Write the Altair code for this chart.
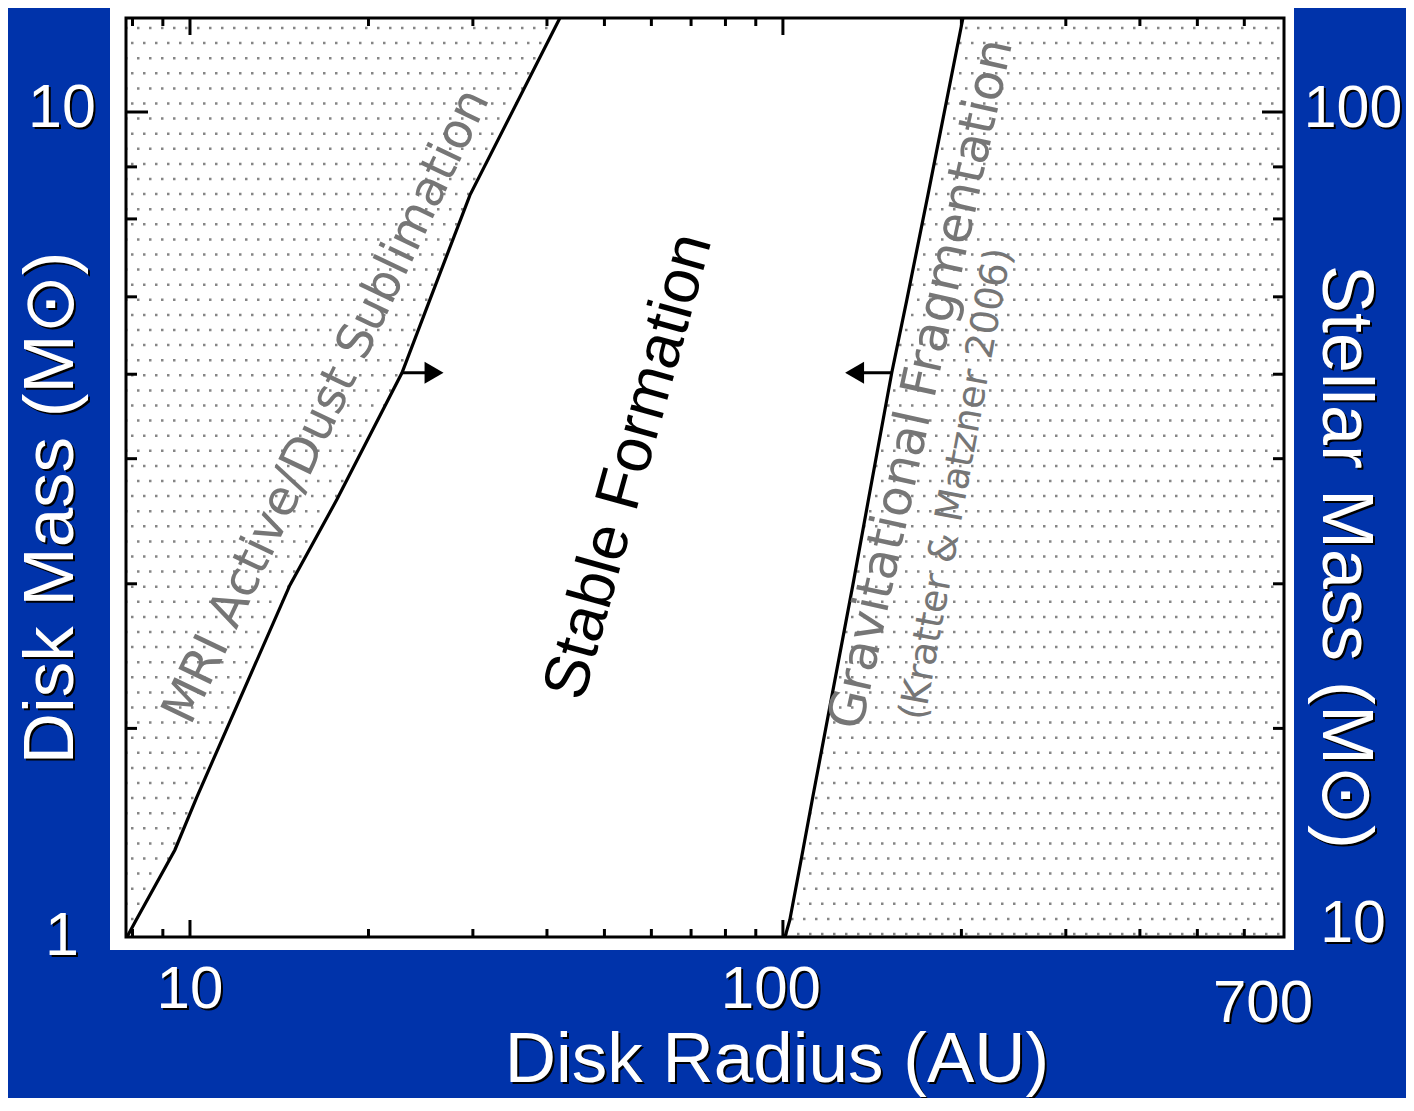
import altair as alt
import pandas as pd

W, H = 1158, 919
TOTAL_W, TOTAL_H = 1398, 1090
PAD_L, PAD_T = 118, 10

BLUE = "#0033aa"

# ---------------- data ----------------
x_domain = [7.8, 700]      # disk radius (AU)
y_domain = [1, 13]         # disk mass (Msun)

# boundary curves, read at common disk-mass levels
band_mass = [1.0, 1.048, 1.275, 1.478, 2.67, 3.39, 4.83, 5.92, 7.93, 13.0]
mri_radius = [7.83, 8.11, 9.43, 10.27, 14.74, 17.69, 22.78, 25.38, 29.66, 42.06]
frag_radius = [100.8, 102.7, 108.1, 112.3, 131.2, 139.4, 152.6, 161.8, 175.6, 201.2]

# frame ticks
x_major = [10, 100]
x_minor = [8, 9, 20, 30, 40, 50, 60, 70, 80, 90, 200, 300, 400, 500, 600]
y_major = [10]
y_minor = [1.79, 2.68, 3.80, 4.81, 5.97, 7.42, 8.58]

# arrows (start on curve -> head)
arrow_mass = 4.83
arrow_mri = [22.78, 25.8]
arrow_frag = [152.6, 132.1]

# annotations
note_text = ["MRI Active/Dust Sublimation", "Gravitational Fragmentation",
             "(Kratter & Matzner 2006)", "Stable Formation"]
note_radius = [17.0, 171.6, 196.6, 55.0]
note_mass = [4.40, 4.68, 3.54, 3.72]

# tick labels
x_labels = ["10", "100", "700"]
x_label_vals = [10, 100, 700]
left_labels = ["10", "1"]
left_label_vals = [10, 1]
right_labels = ["100", "10"]
right_label_vals = [10, 1]

x_title = "Disk Radius (AU)"
left_title = "Disk Mass (M\u2299)"
right_title = "Stellar Mass (M\u2299)"

# ---------------- chart ----------------
xs = alt.Scale(type="log", domain=x_domain, nice=False)
ys = alt.Scale(type="log", domain=y_domain, nice=False)


def X(field):
    return alt.X(field, type="quantitative", scale=xs, axis=None)


def Y(field):
    return alt.Y(field, type="quantitative", scale=ys, axis=None)


one = pd.DataFrame({"k": [0]})
layers = []

# white backdrop around the plot frame
layers.append(alt.Chart(one).mark_rect(fill="white").encode(
    x=alt.value(-16), x2=alt.value(W + 10), y=alt.value(-14), y2=alt.value(H + 13)))

# stipple texture (drawn as dotted rows)
rows = alt.Chart(alt.sequence(0, 61, as_="row")).transform_calculate(
    py="datum.row * 15.1 + 10", odd="datum.row % 2")
layers.append(rows.transform_filter("datum.odd == 0").mark_rule(
    stroke="#858585", strokeWidth=2.5, strokeDash=[2.5, 9.5], strokeDashOffset=1).encode(
    y=alt.Y("py:Q", scale=None, axis=None), x=alt.value(0), x2=alt.value(W)))
layers.append(rows.transform_filter("datum.odd == 1").mark_rule(
    stroke="#858585", strokeWidth=2.5, strokeDash=[2.5, 9.5], strokeDashOffset=7).encode(
    y=alt.Y("py:Q", scale=None, axis=None), x=alt.value(0), x2=alt.value(W)))

band = pd.DataFrame({"mass": band_mass, "mri": mri_radius, "frag": frag_radius})

# stable region (white)
layers.append(alt.Chart(band).mark_area(orient="horizontal", fill="white", opacity=1).encode(
    y=Y("mass"), x=X("mri"), x2="frag:Q"))

# boundary curves
for col in ["mri", "frag"]:
    layers.append(alt.Chart(band).mark_line(color="black", strokeWidth=3.2).encode(
        x=X(col), y=Y("mass"), order=alt.Order("mass:Q")))

# arrows
arr = pd.DataFrame({"a": [arrow_mri[0], arrow_frag[0]], "b": [arrow_mri[1], arrow_frag[1]],
                    "m": [arrow_mass, arrow_mass]})
layers.append(alt.Chart(arr).mark_rule(color="black", strokeWidth=3).encode(
    x=X("a"), x2="b:Q", y=Y("m")))
layers.append(alt.Chart(pd.DataFrame({"a": [arrow_mri[1]], "m": [arrow_mass]})).mark_point(
    shape="triangle-right", filled=True, size=480, color="black", opacity=1, strokeWidth=0).encode(
    x=X("a"), y=Y("m")))
layers.append(alt.Chart(pd.DataFrame({"a": [arrow_frag[1]], "m": [arrow_mass]})).mark_point(
    shape="triangle-left", filled=True, size=480, color="black", opacity=1, strokeWidth=0).encode(
    x=X("a"), y=Y("m")))

# annotations
note_style = [
    dict(angle=295.5, fontSize=49, font="DejaVu Sans", color="#767676"),
    dict(angle=282.4, fontSize=50, font="DejaVu Sans", color="#767676"),
    dict(angle=280.5, fontSize=38, font="DejaVu Sans", color="#767676"),
    dict(angle=285.6, fontSize=63, font="Liberation Sans", color="black"),
]
for t, r, m, st in zip(note_text, note_radius, note_mass, note_style):
    layers.append(alt.Chart(pd.DataFrame({"t": [t], "r": [r], "m": [m]})).mark_text(
        align="center", baseline="middle", **st).encode(
        x=X("r"), y=Y("m"), text="t:N"))

# frame ticks
for vals, ln in [(x_major, 17), (x_minor, 8)]:
    d = pd.DataFrame({"v": vals})
    layers.append(alt.Chart(d).mark_rule(color="black", strokeWidth=3).encode(
        x=X("v"), y=alt.value(H), y2=alt.value(H - ln)))
    layers.append(alt.Chart(d).mark_rule(color="black", strokeWidth=3).encode(
        x=X("v"), y=alt.value(0), y2=alt.value(ln)))
for vals, ln in [(y_major, 22), (y_minor, 11)]:
    d = pd.DataFrame({"v": vals})
    layers.append(alt.Chart(d).mark_rule(color="black", strokeWidth=3).encode(
        y=Y("v"), x=alt.value(0), x2=alt.value(ln)))
    layers.append(alt.Chart(d).mark_rule(color="black", strokeWidth=3).encode(
        y=Y("v"), x=alt.value(W), x2=alt.value(W - ln)))

# frame
layers.append(alt.Chart(one).mark_rect(filled=False, stroke="black", strokeWidth=3).encode(
    x=alt.value(0), x2=alt.value(W), y=alt.value(0), y2=alt.value(H)))


# white labels with black drop shadow
def shadowed(text, x_enc, y_enc, size, sx=2, sy=2, dx=0, dy=0, baseline="alphabetic"):
    d = pd.DataFrame({"t": [text]})
    out = []
    for col, ox, oy in [("black", sx, sy), ("white", 0, 0)]:
        kw = dict(align="center", baseline=baseline, font="Liberation Sans",
                  fontSize=size, color=col, dx=dx + ox, dy=dy + oy)
        out.append(alt.Chart(d).mark_text(**kw).encode(x=x_enc, y=y_enc, text="t:N"))
    return out


x_dx = [0, -12, -21]
x_base = [990, 990, 1004]
for t, v, ddx, b in zip(x_labels, x_label_vals, x_dx, x_base):
    layers += shadowed(t, alt.XDatum(v, scale=xs, axis=None), alt.value(b), 60, dx=ddx)

left_dy = [15, 18]
for t, v, ddy in zip(left_labels, left_label_vals, left_dy):
    layers += shadowed(t, alt.value(-64), alt.YDatum(v, scale=ys, axis=None), 61, dy=ddy)

right_dy = [15, 5]
for t, v, ddy in zip(right_labels, right_label_vals, right_dy):
    layers += shadowed(t, alt.value(1227), alt.YDatum(v, scale=ys, axis=None), 59, dy=ddy)

# titles
layers += shadowed(x_title, alt.value(651), alt.value(1064), 71)
d = pd.DataFrame({"t": [left_title]})
for col, o in [("black", 2), ("white", 0)]:
    layers.append(alt.Chart(d).mark_text(align="center", baseline="middle", angle=270,
                                         font="Liberation Sans", fontSize=71, color=col).encode(
        x=alt.value(-74 + o), y=alt.value(490 + o), text="t:N"))
d = pd.DataFrame({"t": [right_title]})
for col, o in [("black", 2), ("white", 0)]:
    layers.append(alt.Chart(d).mark_text(align="center", baseline="middle", angle=90,
                                         font="Liberation Sans", fontSize=72, color=col).encode(
        x=alt.value(1219 + o), y=alt.value(539 + o), text="t:N"))

chart = alt.layer(*layers).resolve_scale(x="independent", y="independent").properties(
    width=W, height=H,
    padding={"left": PAD_L, "top": PAD_T, "right": TOTAL_W - PAD_L - W, "bottom": TOTAL_H - PAD_T - H},
    autosize=alt.AutoSizeParams(type="none"),
    background=BLUE,
).configure_view(stroke=None, fill="white")

chart.save("out.html", embed_options={"renderer": "svg", "actions": False})
